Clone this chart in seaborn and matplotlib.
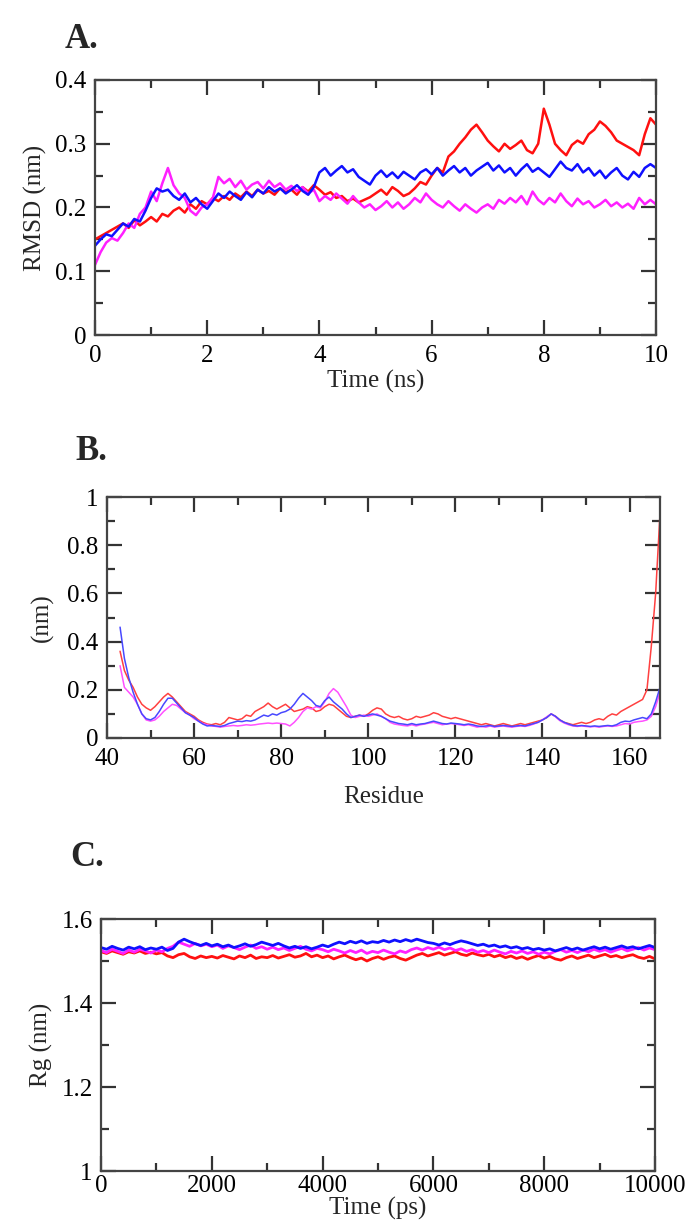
import matplotlib
matplotlib.use("Agg")
import matplotlib.pyplot as plt
from matplotlib.ticker import MultipleLocator, FuncFormatter
import numpy as np
import pandas as pd
import seaborn as sns

# ---- A. RMSD (nm) vs time (ns), sampled every 0.1 ns
time_ns = np.round(np.arange(0, 10.01, 0.1), 2)

rmsd_red = [
    0.150, 0.155, 0.160, 0.165, 0.170, 0.175, 0.168, 0.180, 0.172, 0.178,
    0.185, 0.178, 0.190, 0.186, 0.195, 0.200, 0.192, 0.205, 0.198, 0.210,
    0.205, 0.215, 0.210, 0.218, 0.212, 0.222, 0.216, 0.225, 0.218, 0.228,
    0.222, 0.226, 0.220, 0.230, 0.224, 0.228, 0.220, 0.232, 0.225, 0.235,
    0.228, 0.220, 0.224, 0.215, 0.218, 0.210, 0.214, 0.208, 0.212, 0.216,
    0.222, 0.228, 0.220, 0.232, 0.226, 0.218, 0.222, 0.230, 0.240, 0.236,
    0.250, 0.262, 0.255, 0.280, 0.288, 0.300, 0.310, 0.322, 0.330, 0.318,
    0.305, 0.296, 0.288, 0.300, 0.292, 0.298, 0.305, 0.290, 0.285, 0.300,
    0.355, 0.330, 0.300, 0.290, 0.282, 0.298, 0.305, 0.300, 0.315, 0.322,
    0.335, 0.328, 0.318, 0.305, 0.300, 0.295, 0.290, 0.282, 0.315, 0.340,
    0.330,
]
rmsd_blue = [
    0.140, 0.150, 0.158, 0.155, 0.165, 0.175, 0.170, 0.182, 0.178, 0.195,
    0.215, 0.230, 0.225, 0.228, 0.218, 0.212, 0.222, 0.208, 0.215, 0.205,
    0.198, 0.210, 0.222, 0.215, 0.225, 0.218, 0.212, 0.224, 0.216, 0.228,
    0.222, 0.232, 0.225, 0.230, 0.222, 0.228, 0.235, 0.226, 0.220, 0.232,
    0.255, 0.262, 0.250, 0.258, 0.265, 0.255, 0.260, 0.248, 0.242, 0.236,
    0.250, 0.258, 0.248, 0.255, 0.246, 0.256, 0.250, 0.244, 0.255, 0.260,
    0.252, 0.262, 0.250, 0.258, 0.265, 0.255, 0.262, 0.250, 0.258, 0.264,
    0.270, 0.258, 0.266, 0.255, 0.262, 0.250, 0.260, 0.268, 0.256, 0.262,
    0.255, 0.248, 0.260, 0.272, 0.262, 0.258, 0.268, 0.255, 0.262, 0.250,
    0.258, 0.246, 0.255, 0.262, 0.250, 0.244, 0.256, 0.248, 0.262, 0.268,
    0.262,
]
rmsd_magenta = [
    0.110, 0.130, 0.145, 0.152, 0.148, 0.160, 0.175, 0.168, 0.190, 0.200,
    0.225, 0.210, 0.238, 0.262, 0.235, 0.222, 0.215, 0.195, 0.188, 0.200,
    0.205, 0.215, 0.248, 0.238, 0.245, 0.232, 0.242, 0.228, 0.236, 0.240,
    0.230, 0.242, 0.232, 0.238, 0.228, 0.234, 0.226, 0.232, 0.222, 0.228,
    0.210, 0.218, 0.212, 0.222, 0.214, 0.206, 0.218, 0.208, 0.200, 0.205,
    0.196, 0.202, 0.210, 0.200, 0.208, 0.198, 0.205, 0.215, 0.208, 0.222,
    0.212, 0.205, 0.200, 0.210, 0.202, 0.195, 0.205, 0.198, 0.192, 0.200,
    0.205, 0.198, 0.212, 0.206, 0.215, 0.208, 0.218, 0.205, 0.225, 0.212,
    0.205, 0.215, 0.208, 0.222, 0.210, 0.202, 0.214, 0.205, 0.210, 0.200,
    0.205, 0.212, 0.202, 0.208, 0.200, 0.206, 0.198, 0.215, 0.205, 0.212,
    0.205,
]

# ---- B. RMSF (nm) per residue 43..167
residue = np.arange(43, 168)

rmsf_red = [
    0.36, 0.28, 0.24, 0.21, 0.17, 0.14, 0.125, 0.115, 0.13, 0.15,
    0.17, 0.185, 0.17, 0.15, 0.13, 0.11, 0.10, 0.09, 0.075, 0.065,
    0.058, 0.055, 0.06, 0.055, 0.065, 0.085, 0.08, 0.075, 0.08, 0.095,
    0.09, 0.11, 0.12, 0.13, 0.145, 0.13, 0.12, 0.13, 0.14, 0.125,
    0.11, 0.115, 0.12, 0.13, 0.125, 0.11, 0.115, 0.13, 0.14, 0.135,
    0.12, 0.105, 0.09, 0.085, 0.09, 0.095, 0.09, 0.10, 0.115, 0.125,
    0.12, 0.10, 0.09, 0.085, 0.09, 0.08, 0.075, 0.08, 0.09, 0.085,
    0.09, 0.095, 0.105, 0.10, 0.09, 0.085, 0.08, 0.085, 0.08, 0.075,
    0.07, 0.065, 0.06, 0.055, 0.06, 0.055, 0.05, 0.055, 0.06, 0.055,
    0.05, 0.055, 0.06, 0.055, 0.06, 0.065, 0.07, 0.075, 0.085, 0.10,
    0.09, 0.075, 0.065, 0.06, 0.055, 0.06, 0.065, 0.06, 0.065, 0.075,
    0.08, 0.075, 0.09, 0.10, 0.095, 0.11, 0.12, 0.13, 0.14, 0.15,
    0.16, 0.20, 0.38, 0.60, 0.93,
]
rmsf_blue = [
    0.46, 0.33, 0.25, 0.19, 0.14, 0.10, 0.08, 0.075, 0.085, 0.11,
    0.14, 0.165, 0.165, 0.145, 0.125, 0.105, 0.095, 0.085, 0.07, 0.058,
    0.05, 0.052, 0.05, 0.048, 0.052, 0.06, 0.065, 0.07, 0.068, 0.072,
    0.07, 0.075, 0.085, 0.095, 0.09, 0.10, 0.095, 0.105, 0.11, 0.12,
    0.14, 0.165, 0.185, 0.17, 0.155, 0.135, 0.13, 0.155, 0.17, 0.15,
    0.135, 0.12, 0.10, 0.085, 0.09, 0.095, 0.09, 0.095, 0.10, 0.095,
    0.09, 0.08, 0.07, 0.065, 0.06, 0.058, 0.055, 0.06, 0.055, 0.058,
    0.06, 0.065, 0.07, 0.065, 0.06, 0.058, 0.062, 0.06, 0.058, 0.055,
    0.058, 0.055, 0.05, 0.048, 0.05, 0.052, 0.048, 0.05, 0.052, 0.05,
    0.048, 0.05, 0.052, 0.05, 0.055, 0.06, 0.065, 0.075, 0.085, 0.10,
    0.09, 0.075, 0.065, 0.058, 0.052, 0.05, 0.052, 0.05, 0.048, 0.05,
    0.048, 0.05, 0.052, 0.05, 0.055, 0.065, 0.07, 0.068, 0.075, 0.08,
    0.085, 0.08, 0.10, 0.15, 0.21,
]
rmsf_magenta = [
    0.30, 0.21, 0.19, 0.17, 0.14, 0.10, 0.075, 0.07, 0.075, 0.09,
    0.11, 0.125, 0.14, 0.135, 0.12, 0.105, 0.095, 0.08, 0.07, 0.06,
    0.055, 0.05, 0.048, 0.045, 0.048, 0.05, 0.052, 0.05, 0.052, 0.055,
    0.053, 0.055, 0.058, 0.06, 0.062, 0.06, 0.062, 0.06, 0.058, 0.05,
    0.065, 0.085, 0.11, 0.125, 0.12, 0.13, 0.125, 0.15, 0.185, 0.205,
    0.19, 0.16, 0.13, 0.095, 0.085, 0.09, 0.095, 0.09, 0.095, 0.10,
    0.09, 0.08, 0.065, 0.058, 0.055, 0.052, 0.05, 0.055, 0.05, 0.055,
    0.058, 0.062, 0.065, 0.06, 0.055, 0.058, 0.06, 0.058, 0.055, 0.052,
    0.055, 0.05, 0.045, 0.048, 0.045, 0.05, 0.045, 0.048, 0.05, 0.047,
    0.045, 0.048, 0.05, 0.048, 0.052, 0.058, 0.065, 0.075, 0.088, 0.10,
    0.088, 0.072, 0.062, 0.055, 0.05, 0.048, 0.05, 0.048, 0.046, 0.048,
    0.045, 0.048, 0.05, 0.048, 0.05, 0.055, 0.06, 0.058, 0.065, 0.068,
    0.07, 0.075, 0.09, 0.13, 0.19,
]

# ---- C. Rg (nm) vs time (ps), sampled every 100 ps
time_ps = np.arange(0, 10001, 100)

rg_red = [
    1.522, 1.518, 1.524, 1.520, 1.516, 1.522, 1.519, 1.524, 1.518, 1.521,
    1.517, 1.520, 1.512, 1.508, 1.515, 1.518, 1.510, 1.506, 1.512, 1.508,
    1.511, 1.507, 1.513, 1.509, 1.505, 1.512, 1.508, 1.514, 1.506, 1.510,
    1.508, 1.513, 1.507, 1.511, 1.515, 1.509, 1.512, 1.518, 1.510, 1.514,
    1.508, 1.512, 1.505, 1.510, 1.514, 1.508, 1.503, 1.507, 1.500, 1.506,
    1.510, 1.504, 1.509, 1.512, 1.506, 1.502, 1.508, 1.514, 1.518, 1.512,
    1.516, 1.520, 1.514, 1.518, 1.522, 1.516, 1.513, 1.519, 1.515, 1.512,
    1.516, 1.510, 1.514, 1.508, 1.512, 1.506, 1.510, 1.504, 1.509, 1.513,
    1.507, 1.511, 1.505, 1.502, 1.508, 1.512, 1.506, 1.510, 1.514, 1.508,
    1.512, 1.516, 1.510, 1.513, 1.508, 1.512, 1.515, 1.509, 1.506, 1.511,
    1.505,
]
rg_magenta = [
    1.525, 1.520, 1.528, 1.523, 1.518, 1.526, 1.521, 1.528, 1.524, 1.519,
    1.526, 1.522, 1.530, 1.535, 1.545, 1.540, 1.535, 1.542, 1.536, 1.540,
    1.534, 1.538, 1.530, 1.536, 1.532, 1.527, 1.533, 1.538, 1.530, 1.534,
    1.528, 1.533, 1.527, 1.531, 1.525, 1.530, 1.535, 1.528, 1.524, 1.530,
    1.527, 1.522, 1.528, 1.524, 1.519, 1.525, 1.520, 1.526, 1.518, 1.523,
    1.520, 1.526, 1.521, 1.517, 1.524, 1.520, 1.527, 1.531, 1.526, 1.532,
    1.528, 1.533, 1.527, 1.531, 1.525, 1.529, 1.523, 1.527, 1.521, 1.525,
    1.520, 1.526, 1.521, 1.517, 1.523, 1.519, 1.524, 1.518, 1.522, 1.516,
    1.521, 1.517, 1.523, 1.527, 1.521, 1.525, 1.520, 1.526, 1.522, 1.528,
    1.523, 1.527, 1.521, 1.526, 1.530, 1.524, 1.528, 1.532, 1.526, 1.531,
    1.527,
]
rg_blue = [
    1.532, 1.528, 1.535, 1.530, 1.526, 1.533, 1.529, 1.534, 1.527, 1.531,
    1.528, 1.533, 1.525, 1.530, 1.545, 1.552, 1.546, 1.541, 1.537, 1.542,
    1.536, 1.540, 1.534, 1.538, 1.532, 1.536, 1.541, 1.535, 1.539, 1.545,
    1.541, 1.537, 1.542, 1.536, 1.531, 1.535, 1.530, 1.534, 1.529, 1.533,
    1.538, 1.534, 1.540, 1.545, 1.541, 1.547, 1.543, 1.548, 1.542, 1.546,
    1.544, 1.549, 1.545, 1.550, 1.546, 1.551, 1.547, 1.552, 1.548, 1.544,
    1.542, 1.538, 1.543, 1.539, 1.544, 1.548, 1.545, 1.541, 1.537, 1.540,
    1.535, 1.538, 1.533, 1.536, 1.531, 1.534, 1.529, 1.532, 1.527, 1.530,
    1.526, 1.529, 1.524, 1.528, 1.532, 1.527, 1.531, 1.526, 1.530, 1.534,
    1.529, 1.533, 1.528, 1.532, 1.536, 1.531, 1.534, 1.529, 1.533, 1.537,
    1.532,
]

series_names = ["red", "magenta", "blue"]
colors_a = ["#ff1010", "#ff20ff", "#1010ff"]
colors_b = ["#ff4040", "#ff50ff", "#4848ff"]


def long_frame(x, ys, xname, yname):
    parts = []
    for name, y in zip(series_names, ys):
        parts.append(pd.DataFrame({xname: x, yname: y, "system": name}))
    return pd.concat(parts, ignore_index=True)


df_a = long_frame(time_ns, [rmsd_red, rmsd_magenta, rmsd_blue], "time", "rmsd")
df_b = long_frame(residue, [rmsf_red, rmsf_magenta, rmsf_blue], "residue", "rmsf")
df_c = long_frame(time_ps, [rg_red, rg_magenta, rg_blue], "time", "rg")

sns.set_style("ticks")
plt.rcParams["font.family"] = ["Liberation Serif", "DejaVu Serif"]

TICK_FS = 18
LABEL_FS = 18
PANEL_FS = 25

fig = plt.figure(figsize=(6.97, 12.24), dpi=100)
ax_a = fig.add_axes([95 / 697, 1 - 335 / 1224, 561 / 697, 255 / 1224])
ax_b = fig.add_axes([107 / 697, 1 - 738 / 1224, 553 / 697, 241 / 1224])
ax_c = fig.add_axes([101 / 697, 1 - 1171 / 1224, 554 / 697, 252 / 1224])

gfmt = FuncFormatter(lambda v, p: f"{v:g}")


def style_axes(ax, xmaj, xmin, ymaj, ymin, xpad):
    ax.xaxis.set_major_locator(MultipleLocator(xmaj))
    ax.xaxis.set_minor_locator(MultipleLocator(xmin))
    ax.yaxis.set_major_locator(MultipleLocator(ymaj))
    ax.yaxis.set_minor_locator(MultipleLocator(ymin))
    ax.yaxis.set_major_formatter(gfmt)
    ax.tick_params(which="both", direction="in", top=True, right=True,
                   colors="#333333", labelcolor="black", labelsize=TICK_FS)
    ax.tick_params(which="major", length=11, width=1.6)
    ax.tick_params(which="minor", length=6, width=1.6)
    ax.tick_params(axis="y", which="major", pad=6)
    ax.tick_params(axis="x", which="major", pad=xpad)
    for sp in ax.spines.values():
        sp.set_color("#444444")
        sp.set_linewidth(1.6)


# A. RMSD
sns.lineplot(data=df_a, x="time", y="rmsd", hue="system", palette=colors_a,
             estimator=None, legend=False, linewidth=1.8, ax=ax_a)
ax_a.set_xlim(0, 10)
ax_a.set_ylim(0, 0.4)
style_axes(ax_a, 2, 1, 0.1, 0.05, xpad=7)
ax_a.set_xlabel("Time (ns)", fontsize=LABEL_FS, labelpad=2)
ax_a.set_ylabel("RMSD (nm)", fontsize=LABEL_FS, labelpad=6)
fig.text(65 / 697, 1 - 40 / 1224, "A.", fontsize=PANEL_FS, fontweight="bold", va="center")

# B. RMSF
sns.lineplot(data=df_b, x="residue", y="rmsf", hue="system", palette=colors_b,
             estimator=None, legend=False, linewidth=1.1, ax=ax_b)
ax_b.set_xlim(40, 167)
ax_b.set_ylim(0, 1)
style_axes(ax_b, 20, 10, 0.2, 0.1, xpad=7)
ax_b.set_xlabel("Residue", fontsize=LABEL_FS, labelpad=12)
ax_b.set_ylabel("(nm)", fontsize=LABEL_FS, labelpad=10)
fig.text(75 / 697, 1 - 452 / 1224, "B.", fontsize=PANEL_FS, fontweight="bold", va="center")

# C. Rg
sns.lineplot(data=df_c, x="time", y="rg", hue="system", palette=colors_a,
             estimator=None, legend=False, linewidth=2.0, ax=ax_c)
ax_c.set_xlim(0, 10000)
ax_c.set_ylim(1, 1.6)
style_axes(ax_c, 2000, 1000, 0.2, 0.1, xpad=3)
ax_c.set_xlabel("Time (ps)", fontsize=LABEL_FS, labelpad=0)
ax_c.set_ylabel("Rg (nm)", fontsize=LABEL_FS, labelpad=6)
fig.text(70 / 697, 1 - 857 / 1224, "C.", fontsize=PANEL_FS, fontweight="bold", va="center")

fig.savefig("out.png", dpi=100)
